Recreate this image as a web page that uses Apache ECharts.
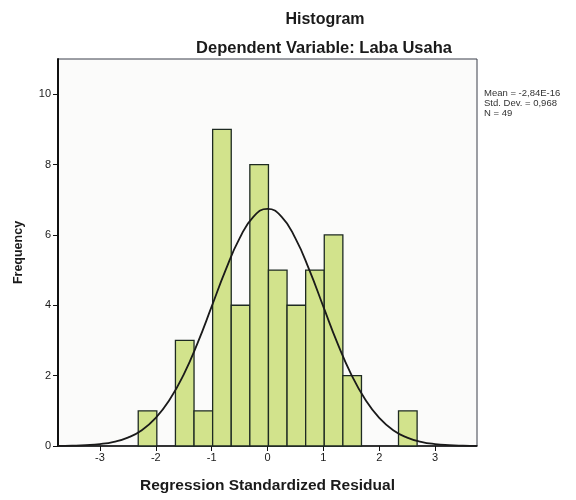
<!DOCTYPE html>
<html>
<head>
<meta charset="utf-8">
<script src="https://cdn.jsdelivr.net/npm/echarts@6/dist/echarts.min.js"></script>
<style>html,body{margin:0;padding:0;background:#fff;}#c{width:576px;height:500px;}</style>
</head>
<body>
<div id="c"></div>
<script>
// Histogram bins (lower edge, upper edge, frequency)
var binLow  = [-2.314, -1.648, -1.315, -0.982, -0.649, -0.316, 0.017, 0.350, 0.683, 1.016, 1.349, 2.345];
var binHigh = [-1.981, -1.315, -0.982, -0.649, -0.316, 0.017, 0.350, 0.683, 1.016, 1.349, 1.682, 2.678];
var freq    = [1, 3, 1, 9, 4, 8, 5, 4, 5, 6, 2, 1];
// Normal curve
var curveX = [-3.75, -3.5, -3.25, -3, -2.75, -2.5, -2.25, -2, -1.75, -1.5, -1.25, -1, -0.75, -0.5, -0.25, 0, 0.25, 0.5, 0.75, 1, 1.25, 1.5, 1.75, 2, 2.25, 2.5, 2.75, 3, 3.25, 3.5, 3.75];
var curveY = [0.004, 0.01, 0.024, 0.055, 0.12, 0.24, 0.45, 0.80, 1.32, 2.03, 2.93, 3.96, 5.00, 5.90, 6.52, 6.74, 6.52, 5.90, 5.00, 3.96, 2.93, 2.03, 1.32, 0.80, 0.45, 0.24, 0.12, 0.055, 0.024, 0.01, 0.004];
var xTicks = [-3, -2, -1, 0, 1, 2, 3];
var yTicks = [0, 2, 4, 6, 8, 10];
var titleText = 'Histogram';
var subTitleText = 'Dependent Variable: Laba Usaha';
var xName = 'Regression Standardized Residual';
var yName = 'Frequency';
var statsLines = ['Mean = -2,84E-16', 'Std. Dev. = 0,968', 'N = 49'];

var barData = binLow.map(function (lo, i) { return [lo, binHigh[i], freq[i]]; });
var lineData = curveX.map(function (x, i) { return [x, curveY[i]]; });

var font = '"Liberation Sans", Arial, sans-serif';
var chart = echarts.init(document.getElementById('c'), null, {renderer: 'canvas'});
chart.setOption({
  animation: false,
  backgroundColor: '#ffffff',
  title: [
    {text: titleText, left: 320, top: 7, textAlign: 'center',
     textStyle: {fontFamily: font, fontSize: 16, fontWeight: 'bold', color: '#1a1a1a'}},
    {text: subTitleText, left: 319, top: 35, textAlign: 'center',
     textStyle: {fontFamily: font, fontSize: 16.5, fontWeight: 'bold', color: '#1a1a1a'}}
  ],
  grid: {left: 58, right: 99, top: 59, bottom: 54, show: true,
         borderColor: '#3a3f4a', borderWidth: 1, backgroundColor: '#fbfbfa'},
  xAxis: {
    type: 'value', min: -3.75, max: 3.75,
    name: xName, nameLocation: 'middle', nameGap: 32,
    nameTextStyle: {fontFamily: font, fontSize: 15.5, fontWeight: 'bold', color: '#1a1a1a'},
    axisLine: {onZero: false, lineStyle: {color: '#111', width: 1.5}},
    axisTick: {customValues: xTicks, length: 5, lineStyle: {color: '#111'}},
    axisLabel: {customValues: xTicks, fontFamily: font, fontSize: 11, color: '#1a1a1a', margin: 6},
    splitLine: {show: false}
  },
  yAxis: {
    type: 'value', min: 0, max: 11,
    name: yName, nameLocation: 'middle', nameGap: 33, nameRotate: 90,
    nameTextStyle: {fontFamily: font, fontSize: 12.5, fontWeight: 'bold', color: '#1a1a1a'},
    axisLine: {show: true, onZero: false, lineStyle: {color: '#111', width: 2}},
    axisTick: {show: true, customValues: yTicks, length: 5, lineStyle: {color: '#111'}},
    axisLabel: {customValues: yTicks, fontFamily: font, fontSize: 11, color: '#1a1a1a', margin: 7},
    splitLine: {show: false}
  },
  graphic: [{
    type: 'text', left: 484, top: 88,
    style: {text: statsLines.join('\n'), font: '9.5px ' + font, fill: '#333', lineHeight: 10}
  }],
  series: [{
    type: 'custom',
    data: barData,
    encode: {x: [0, 1], y: 2},
    renderItem: function (params, api) {
      var p0 = api.coord([api.value(0), api.value(2)]);
      var p1 = api.coord([api.value(1), 0]);
      return {
        type: 'rect',
        shape: {x: p0[0], y: p0[1], width: p1[0] - p0[0], height: p1[1] - p0[1]},
        style: {fill: '#d2e38c', stroke: '#1e2a22', lineWidth: 1.3}
      };
    },
    z: 2
  }, {
    type: 'line',
    data: lineData,
    smooth: true,
    showSymbol: false,
    lineStyle: {color: '#1a1a1a', width: 1.8},
    z: 3
  }]
});
</script>
</body>
</html>
